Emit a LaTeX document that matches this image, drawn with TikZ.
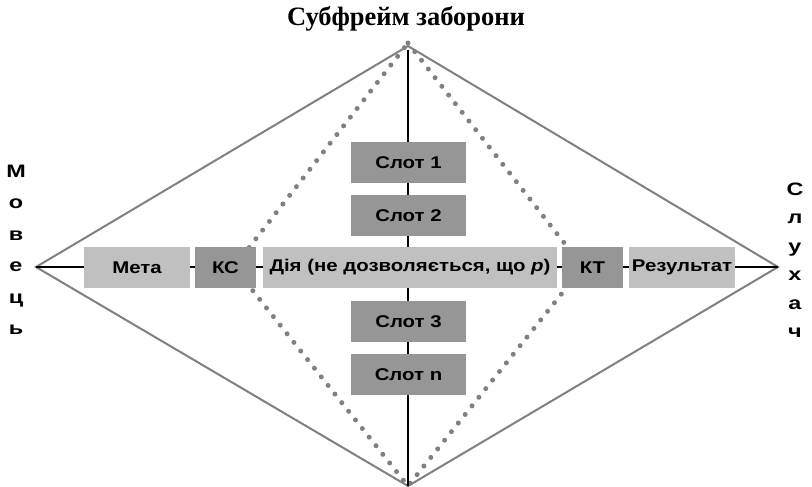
\documentclass[tikz,border=0pt]{standalone}
\usepackage{fontspec}
\newfontfamily\boxfont[FakeStretch=1.2]{Liberation Sans}
\newfontfamily\sidefont[FakeStretch=1.3]{Liberation Sans}
\newfontfamily\headfont{Liberation Serif}
\definecolor{slotgray}{RGB}{150,150,150}
\definecolor{palegray}{RGB}{192,192,192}
\definecolor{framegray}{RGB}{128,128,128}

\begin{document}
\begin{tikzpicture}[x=1pt, y=-1pt,
    box/.style={inner sep=0pt, minimum height=41pt, text=black,
        font=\boxfont\bfseries\fontsize{17}{20}\selectfont},
    darkbox/.style={box, fill=slotgray},
    palebox/.style={box, fill=palegray},
    letter/.style={anchor=base, inner sep=0pt,
        font=\sidefont\bfseries\fontsize{18}{21}\selectfont},
    frame/.style={framegray, line width=2pt},
    dotline/.style={framegray, line width=5pt, line cap=round, dash pattern=on 0pt off 11pt},
    spine/.style={black, line width=2pt}]
    \useasboundingbox (0,0) rectangle (812,487);

    % title
    \node[anchor=base, font=\headfont\bfseries\fontsize{26.5}{30}\selectfont] (title) at (406,26) {Субфрейм заборони};

    % corners of the outer frame and of the dotted frame
    \coordinate (spk) at (36,267);
    \coordinate (lst) at (778,267);
    \coordinate (top) at (408,46);
    \coordinate (bot) at (408,486);
    \coordinate (dtop) at (408,43);
    \coordinate (dright) at (583,267);
    \coordinate (dbot) at (408,486);
    \coordinate (dleft) at (234,267);

    \draw[frame] (spk) -- (top) -- (lst) -- (bot) -- cycle;
    \draw[dotline] (dtop) -- (dright) -- (dbot) -- (dleft) -- cycle;
    \draw[spine] (spk) -- (lst);
    \draw[spine] (408,50) -- (bot);

    % middle row
    \node[palebox, minimum width=106pt] (meta) at (137,267.5) {Мета};
    \node[darkbox, minimum width=61pt] (ks) at (225.5,267.5) {КС};
    \node[palebox, minimum width=294pt] (diya) at (410,267.5) {Дія (не дозволяється, що {\itshape p})};
    \node[darkbox, minimum width=61pt] (kt) at (592.5,267.5) {КТ};
    \node[palebox, minimum width=106pt] (res) at (682,267.5) {Результат};

    % slots on the vertical line
    \foreach \s/\t/\y in {s1/Слот 1/162.5, s2/Слот 2/215.5, s3/Слот 3/321.5, sn/Слот n/374.5} {
        \node[darkbox, minimum width=115pt] (\s) at (408.5,\y) {\t};
    }

    % speaker and listener, written downwards
    \foreach \c [count=\i from 0] in {М,о,в,е,ц,ь} {
        \node[letter] (spk\i) at (16,177+31.5*\i) {\c};
    }
    \foreach \c [count=\i from 0] in {С,л,у,х,а,ч} {
        \node[letter] (lst\i) at (795,195+28.5*\i) {\c};
    }
\end{tikzpicture}
\end{document}
